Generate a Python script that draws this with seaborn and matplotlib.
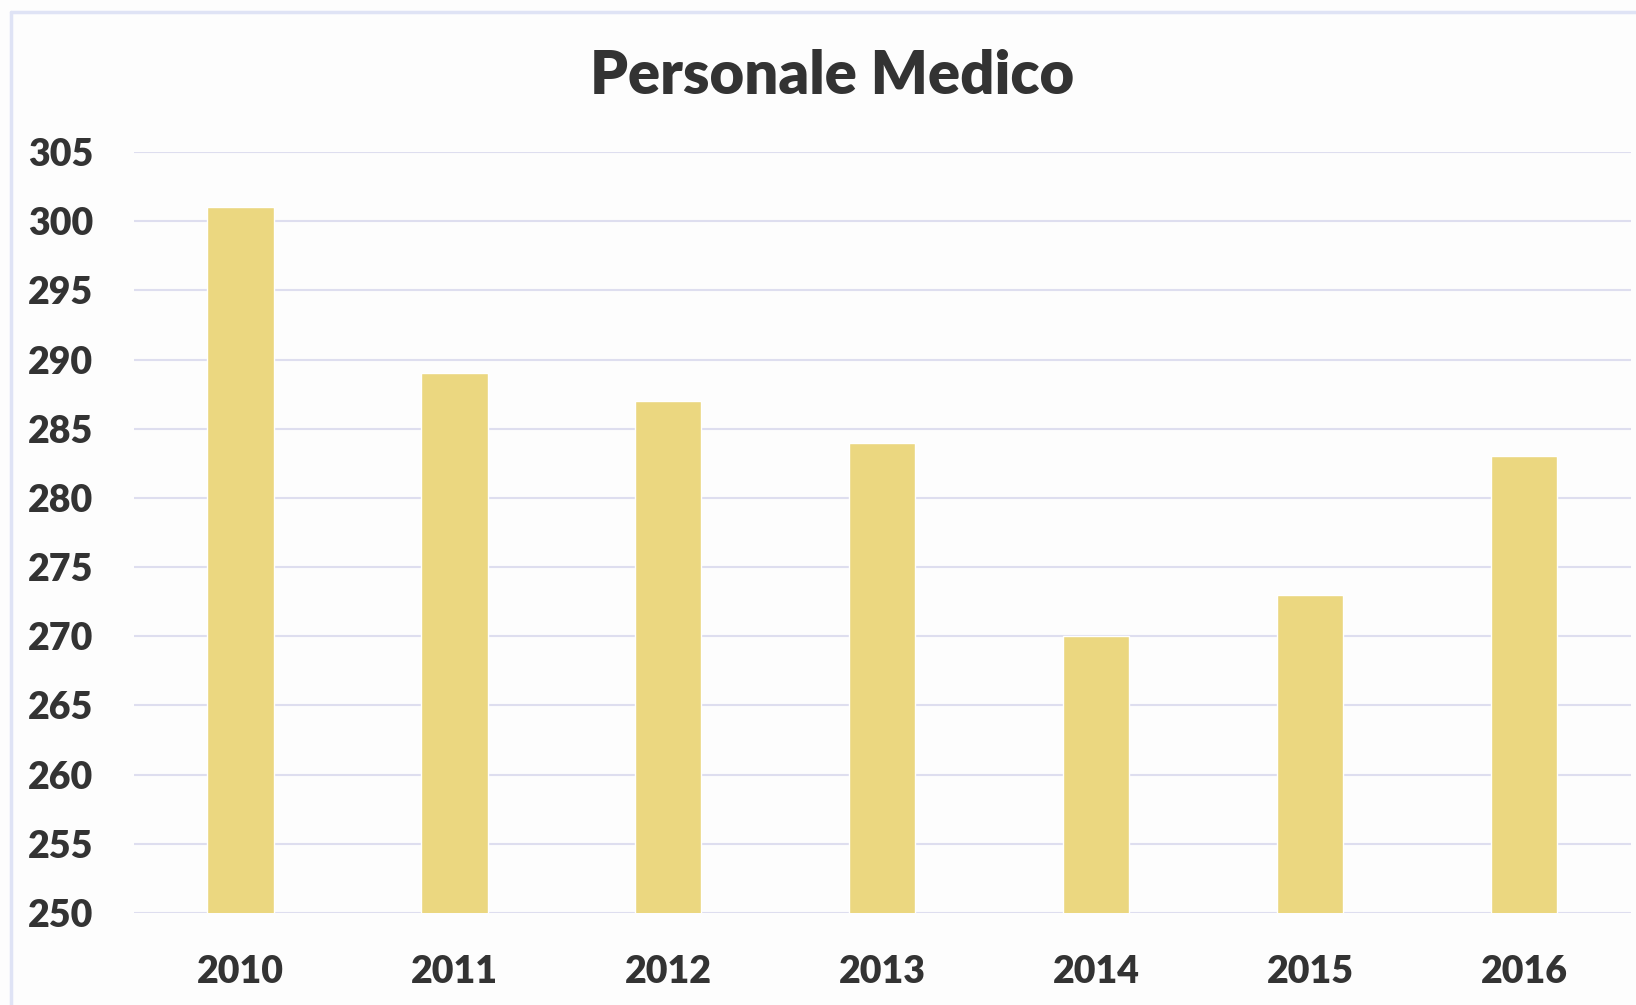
import matplotlib
matplotlib.use("Agg")
import pandas as pd
import seaborn as sns
import matplotlib.pyplot as plt
from matplotlib.lines import Line2D

# Data
years = ['2010', '2011', '2012', '2013', '2014', '2015', '2016']
personale = [301, 289, 287, 284, 270, 273, 283]
yticks = [250, 255, 260, 265, 270, 275, 280, 285, 290, 295, 300, 305]

df = pd.DataFrame({'Anno': years, 'Personale': personale})

sns.set_theme(style='white')
plt.rcParams['font.family'] = ['Lato', 'DejaVu Sans']

text_col = '#333333'
grid_col = '#dedeef'

fig = plt.figure(figsize=(16.36, 10.05), dpi=100)
fig.patch.set_facecolor('#fdfdfd')
ax = fig.add_axes([133.5 / 1636, 1 - 913 / 1005, (1631 - 133.5) / 1636, (913 - 152) / 1005])
ax.set_facecolor('#fdfdfd')

sns.barplot(data=df, x='Anno', y='Personale', color='#ebd780', width=0.31,
            saturation=1, ax=ax, zorder=2)

ax.set_ylim(250, 305)
ax.set_xlim(-0.5, 6.5)
ax.set_yticks(yticks)
ax.yaxis.grid(True, color=grid_col, linewidth=1.5, zorder=0)
ax.set_axisbelow(True)
for s in ax.spines.values():
    s.set_visible(False)
ax.set_xlabel('')
ax.set_ylabel('')
ax.tick_params(axis='y', length=0, pad=29, labelsize=27, labelcolor=text_col)
ax.tick_params(axis='x', length=0, pad=30, labelsize=27, labelcolor=text_col)
for lab in ax.get_xticklabels() + ax.get_yticklabels():
    lab.set_fontweight('heavy')

fig.text(0.5085, 1 - 76 / 1005, 'Personale Medico', ha='center', va='center',
         fontsize=43, fontweight='heavy', color=text_col)

# spreadsheet frame lines around the chart
fig.add_artist(Line2D([11 / 1636, 11 / 1636], [0, 1 - 12 / 1005], color='#dfe3f5', lw=2.5))
fig.add_artist(Line2D([11 / 1636, 1], [1 - 12 / 1005, 1 - 12 / 1005], color='#dfe3f5', lw=2.5))

fig.savefig('out.png', dpi=100, facecolor=fig.get_facecolor())
